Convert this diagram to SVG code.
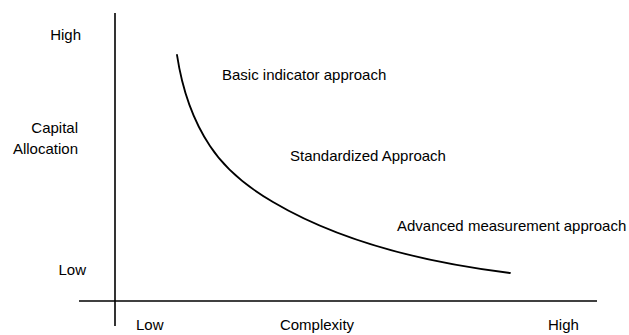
<svg xmlns="http://www.w3.org/2000/svg" width="629" height="335" viewBox="0 0 629 335">
  <style>
    .lbl { font-family: "Liberation Sans", Arial, sans-serif; font-size: 15px; fill: #000; }
    .ax { stroke: #000; stroke-width: 1.6; fill: none; }
    .cv { stroke: #000; stroke-width: 1.8; fill: none; stroke-linecap: round; }
  </style>
  <rect width="629" height="335" fill="#fff"/>
  <g id="axes">
    <line class="ax" x1="115" y1="13" x2="115" y2="326"/>
    <line class="ax" x1="79" y1="301" x2="597" y2="301"/>
  </g>
  <g id="curve">
    <path class="cv" d="M177,55 C182,88 192,119 210,146 C225,169 249,188 273,202 C344,244 429,263 510,273"/>
  </g>
  <g id="y-labels">
    <text class="lbl" x="81" y="40" text-anchor="end">High</text>
    <text class="lbl" x="78" y="133" text-anchor="end">Capital</text>
    <text class="lbl" x="78" y="154" text-anchor="end">Allocation</text>
    <text class="lbl" x="86" y="275" text-anchor="end">Low</text>
  </g>
  <g id="x-labels">
    <text class="lbl" x="136" y="330">Low</text>
    <text class="lbl" x="317" y="330" text-anchor="middle">Complexity</text>
    <text class="lbl" x="548" y="330">High</text>
  </g>
  <g id="approaches">
    <text class="lbl" x="222" y="80">Basic indicator approach</text>
    <text class="lbl" x="290" y="161">Standardized Approach</text>
    <text class="lbl" x="397" y="231">Advanced measurement approach</text>
  </g>
</svg>
